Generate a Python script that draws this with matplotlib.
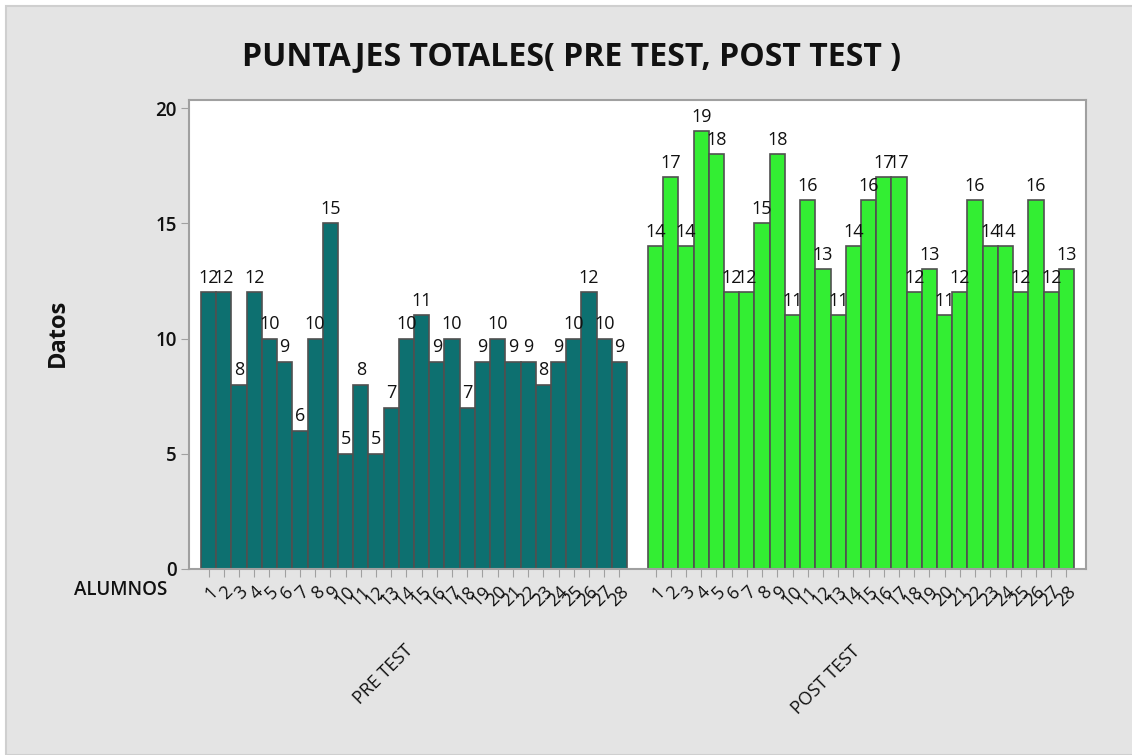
import matplotlib
matplotlib.use("Agg")
import matplotlib.pyplot as plt
from matplotlib.patches import Rectangle
import numpy as np

plt.rcParams['font.family'] = ['Open Sans', 'DejaVu Sans']

title = "PUNTAJES TOTALES( PRE TEST, POST TEST )"
groups = ["PRE TEST", "POST TEST"]
alumnos = [str(i) for i in range(1, 29)]
pre_test = [12, 12, 8, 12, 10, 9, 6, 10, 15, 5, 8, 5, 7, 10, 11, 9, 10, 7, 9, 10, 9, 9, 8, 9, 10, 12, 10, 9]
post_test = [14, 17, 14, 19, 18, 12, 12, 15, 18, 11, 16, 13, 11, 14, 16, 17, 17, 12, 13, 11, 12, 16, 14, 14, 12, 16, 12, 13]
colors = ["#0d7070", "#33ee33"]
y_ticks = [0, 5, 10, 15, 20]

W, H = 1132, 755
fig = plt.figure(figsize=(W / 100, H / 100), dpi=100, facecolor="white")
fig.patches.append(Rectangle((6 / W, 0), 1.2, 1 - 6 / H, transform=fig.transFigure,
                             facecolor="#e4e4e4", edgecolor="#cfcfcf", linewidth=1.5, zorder=-10))

ax = fig.add_axes([189 / W, 1 - 569 / H, (1086 - 189) / W, (569 - 100) / H])
ax.set_facecolor("white")

margin = 0.79
gap = 1.38
n = len(alumnos)
series = [pre_test, post_test]
all_pos = []
all_labels = []
for g, vals in enumerate(series):
    start = margin + g * (n + gap)
    pos = start + np.arange(n) + 0.5
    ax.bar(pos, vals, width=1.0, color=colors[g], edgecolor="#505050", linewidth=1.2, zorder=2)
    for p, v in zip(pos, vals):
        ax.annotate(str(v), (p, v), xytext=(0, 4), textcoords="offset points",
                    ha="center", va="bottom", fontsize=13, color="#111111", zorder=3)
    all_pos.extend(pos)
    all_labels.extend(alumnos)

ax.set_xlim(0, 2 * margin + 2 * n + gap)
ax.set_ylim(0, 20.35)
ax.set_xticks(all_pos)
ax.set_xticklabels(all_labels, rotation=45, ha="right", va="top", rotation_mode="anchor",
                   fontsize=13)
ax.set_yticks(y_ticks)
ax.set_yticklabels([str(t) for t in y_ticks], fontsize=13.5, fontweight="semibold")
ax.tick_params(axis="x", length=6, color="#a0a0a0", pad=4, labelcolor="#111111")
ax.tick_params(axis="y", length=6, color="#a0a0a0", pad=3, labelcolor="#111111")
for s in ax.spines.values():
    s.set_color("#a0a0a0")
    s.set_linewidth(1.5)

fig.text(58 / W, 1 - 333 / H, "Datos", ha="center", va="center", rotation=90,
         fontsize=17, fontweight="bold", color="#111111")

fig.text(571 / W, 1 - 57 / H, title, ha="center", va="center", fontsize=23, fontweight="bold",
         color="#111111")
fig.text(121 / W, 1 - 590 / H, "ALUMNOS", ha="center", va="center", fontsize=13.5,
         fontweight="semibold", color="#111111")
group_xy = [(383, 675), (826, 680)]
for (gx, gy), gname in zip(group_xy, groups):
    fig.text(gx / W, 1 - gy / H, gname, ha="center", va="center", rotation=45, fontsize=13,
             color="#111111")

fig.savefig("out.png", dpi=100, facecolor=fig.get_facecolor())
